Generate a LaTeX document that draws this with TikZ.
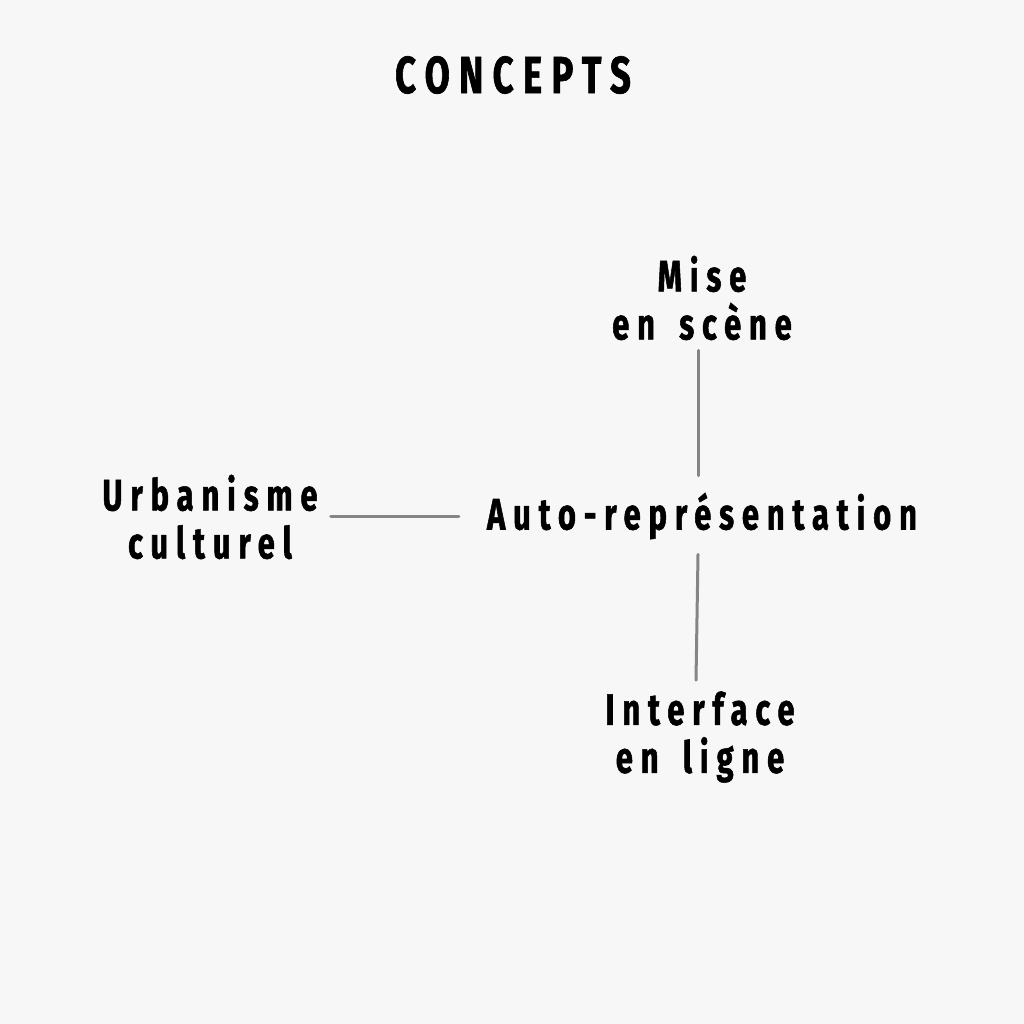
\documentclass[tikz,border=0pt]{standalone}
\usepackage{fontspec}
\newfontfamily\dfont[FakeStretch=0.7,LetterSpace=18,WordSpace=1.6,FakeBold=1.2]{Fira Sans Bold}
\definecolor{bg}{HTML}{F7F7F7}
\definecolor{pencil}{HTML}{858585}
\begin{document}
\begin{tikzpicture}[x=1pt,y=-1pt,
  lbl/.style={font=\dfont\fontsize{44}{48}\selectfont, align=center, inner sep=0pt, text=black},
  ttl/.style={font=\dfont\fontsize{52}{56}\selectfont, inner sep=0pt, text=black},
  pencilline/.style={draw=pencil, line width=3pt, line cap=round}]
\fill[bg] (0,0) rectangle (1024,1024);
\useasboundingbox (0,0) rectangle (1024,1024);
\node[ttl] (title) at (513,75) {CONCEPTS};
\node[lbl] (mise) at (702,298) {Mise\\en scène};
\node[lbl] (auto) at (702,516) {Auto-représentation};
\node[lbl] (urb) at (210,517) {Urbanisme\\culturel};
\node[lbl] (inter) at (700,737) {Interface\\en ligne};
\draw[pencilline] ([xshift=-4pt,yshift=-10pt]mise.south) -- ([xshift=-4pt,yshift=17pt]auto.north);
\draw[pencilline] ([xshift=-4pt,yshift=-15pt]auto.south) -- ([xshift=-4pt,yshift=11pt]inter.north);
\draw[pencilline] ([xshift=13pt]urb.east |- auto.west) -- ([xshift=-28pt]auto.west);
\end{tikzpicture}
\end{document}
